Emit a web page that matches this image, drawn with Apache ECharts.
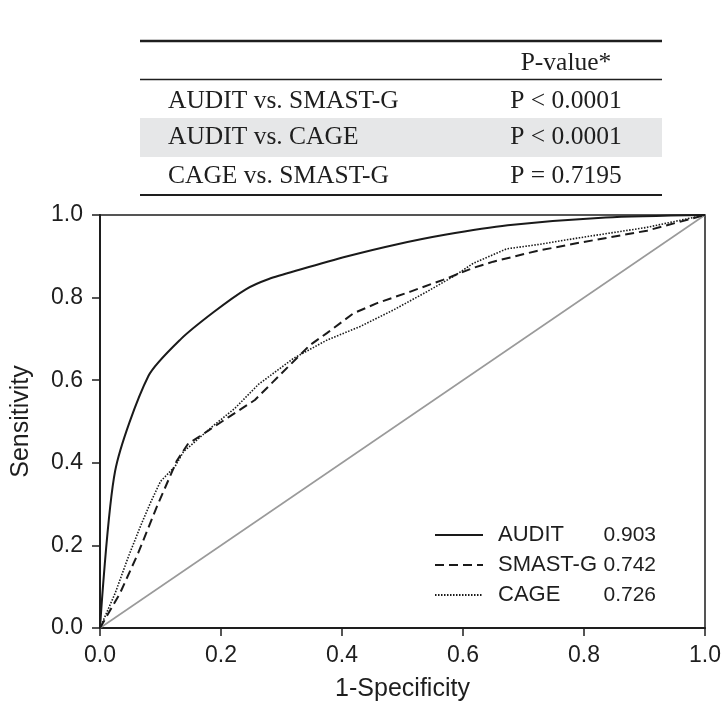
<!DOCTYPE html>
<html>
<head>
<meta charset="utf-8">
<script src="https://cdn.jsdelivr.net/npm/echarts@6/dist/echarts.min.js"></script>
<style>
html,body{margin:0;padding:0;background:#fff;}
#chart{width:726px;height:726px;}
</style>
</head>
<body>
<div id="chart"></div>
<script>
// ---- data ----
var seriesNames = ['AUDIT', 'SMAST-G', 'CAGE'];
var aucValues = ['0.903', '0.742', '0.726'];

var auditX = [0, 0.025, 0.080, 0.134, 0.188, 0.241, 0.279, 0.331, 0.409, 0.488, 0.570, 0.674, 0.836, 1.0];
var auditY = [0, 0.380, 0.610, 0.700, 0.765, 0.820, 0.845, 0.868, 0.900, 0.928, 0.952, 0.975, 0.994, 1.0];

var smastX = [0, 0.033, 0.063, 0.094, 0.127, 0.145, 0.179, 0.212, 0.256, 0.286, 0.347, 0.375, 0.419, 0.457, 0.512, 0.567, 0.617, 0.650, 0.722, 0.793, 0.904, 1.0];
var smastY = [0, 0.084, 0.181, 0.294, 0.405, 0.445, 0.478, 0.510, 0.552, 0.596, 0.685, 0.714, 0.762, 0.786, 0.814, 0.843, 0.872, 0.887, 0.913, 0.933, 0.962, 1.0];

var cageX = [0, 0.025, 0.047, 0.069, 0.083, 0.100, 0.124, 0.138, 0.157, 0.185, 0.223, 0.262, 0.320, 0.375, 0.430, 0.485, 0.540, 0.584, 0.617, 0.672, 0.722, 0.793, 0.904, 1.0];
var cageY = [0, 0.084, 0.173, 0.254, 0.302, 0.355, 0.391, 0.427, 0.451, 0.487, 0.532, 0.590, 0.653, 0.697, 0.730, 0.770, 0.814, 0.851, 0.883, 0.918, 0.928, 0.945, 0.970, 1.0];

var refX = [0, 1];
var refY = [0, 1];

var tickLabels = ['0.0', '0.2', '0.4', '0.6', '0.8', '1.0'];

var tableHeader = ['', 'P-value*'];
var tableComparisons = ['AUDIT vs. SMAST-G', 'AUDIT vs. CAGE', 'CAGE vs. SMAST-G'];
var tablePValues = ['P < 0.0001', 'P < 0.0001', 'P = 0.7195'];

// ---- build ----
function zip(xs, ys) { return xs.map(function (x, i) { return [x, ys[i]]; }); }
function tickFmt(v) { var i = Math.round(v / 0.2); return tickLabels[i] !== undefined ? tickLabels[i] : v.toFixed(1); }

var INK = '#1e1e1e';
var SANS = '"Liberation Sans", Arial, sans-serif';
var SERIF = '"Liberation Serif", "Times New Roman", serif';
var TFONT = '25.5px ' + SERIF;

var graphics = [];
graphics.push({ type: 'rect', shape: { x: 140, y: 118, width: 522, height: 39 }, style: { fill: '#e6e7e8' }, silent: true });
graphics.push({ type: 'line', shape: { x1: 140, y1: 41, x2: 662, y2: 41 }, style: { stroke: INK, lineWidth: 2.5 }, silent: true });
graphics.push({ type: 'line', shape: { x1: 140, y1: 79.5, x2: 662, y2: 79.5 }, style: { stroke: INK, lineWidth: 1.5 }, silent: true });
graphics.push({ type: 'line', shape: { x1: 140, y1: 195, x2: 662, y2: 195 }, style: { stroke: INK, lineWidth: 2 }, silent: true });
graphics.push({ type: 'text', x: 566, y: 63, style: { text: tableHeader[1], font: TFONT, fill: INK, textAlign: 'center', textVerticalAlign: 'middle' }, silent: true });
var rowY = [101, 137, 176];
tableComparisons.forEach(function (t, i) {
  graphics.push({ type: 'text', x: 168, y: rowY[i], style: { text: t, font: TFONT, fill: INK, textAlign: 'left', textVerticalAlign: 'middle' }, silent: true });
  graphics.push({ type: 'text', x: 566, y: rowY[i], style: { text: tablePValues[i], font: TFONT, fill: INK, textAlign: 'center', textVerticalAlign: 'middle' }, silent: true });
});

var chart = echarts.init(document.getElementById('chart'), null, { renderer: 'canvas' });
chart.setOption({
  animation: false,
  backgroundColor: '#fff',
  grid: { left: 100, right: 21, top: 215, bottom: 98, show: true, borderColor: INK, borderWidth: 1.5, containLabel: false, outerBoundsMode: 'none' },
  xAxis: {
    type: 'value', min: 0, max: 1, interval: 0.2,
    name: '1-Specificity', nameLocation: 'middle', nameGap: 49,
    nameTextStyle: { fontFamily: SANS, fontSize: 25, color: INK },
    axisLine: { show: true, lineStyle: { color: INK, width: 2 } },
    axisTick: { show: true, length: 8, lineStyle: { color: INK, width: 1.5 } },
    axisLabel: { formatter: tickFmt, fontFamily: SANS, fontSize: 23, color: INK, margin: 16 },
    splitLine: { show: false }
  },
  yAxis: {
    type: 'value', min: 0, max: 1, interval: 0.2,
    name: 'Sensitivity', nameLocation: 'middle', nameGap: 66,
    nameTextStyle: { fontFamily: SANS, fontSize: 25, color: INK },
    axisLine: { show: true, lineStyle: { color: INK, width: 2 } },
    axisTick: { show: true, length: 8, lineStyle: { color: INK, width: 1.5 } },
    axisLabel: { formatter: tickFmt, fontFamily: SANS, fontSize: 23, color: INK, margin: 17 },
    splitLine: { show: false }
  },
  legend: {
    show: true,
    data: seriesNames,
    orient: 'vertical',
    left: 434, top: 524, padding: 0,
    itemWidth: 48, itemHeight: 14, itemGap: 8,
    itemStyle: { opacity: 0 },
    formatter: function (name) {
      var i = seriesNames.indexOf(name);
      return '{n|' + name + '}{v|' + aucValues[i] + '}';
    },
    textStyle: {
      fontFamily: SANS, fontSize: 22, color: INK,
      rich: {
        n: { fontFamily: SANS, fontSize: 22, color: INK, width: 100, padding: [0, 0, 0, 10], lineHeight: 22 },
        v: { fontFamily: SANS, fontSize: 21, color: INK, width: 58, align: 'right', lineHeight: 22 }
      }
    }
  },
  series: [
    { name: 'ref', type: 'line', data: zip(refX, refY), showSymbol: false, symbol: 'none', silent: true,
      lineStyle: { color: '#9a9a9a', width: 1.6 }, z: 1 },
    { name: seriesNames[0], type: 'line', data: zip(auditX, auditY), symbol: 'none', smooth: 0.25,
      lineStyle: { color: '#1a1a1a', width: 2, type: 'solid' }, itemStyle: { color: '#1a1a1a' }, z: 3 },
    { name: seriesNames[1], type: 'line', data: zip(smastX, smastY), symbol: 'none',
      lineStyle: { color: '#1a1a1a', width: 2, type: [9, 5] }, itemStyle: { color: '#1a1a1a' }, z: 3 },
    { name: seriesNames[2], type: 'line', data: zip(cageX, cageY), symbol: 'none',
      lineStyle: { color: '#1a1a1a', width: 1.6, type: [1.5, 1.5] }, itemStyle: { color: '#1a1a1a' }, z: 3 }
  ],
  graphic: graphics
});
</script>
</body>
</html>
